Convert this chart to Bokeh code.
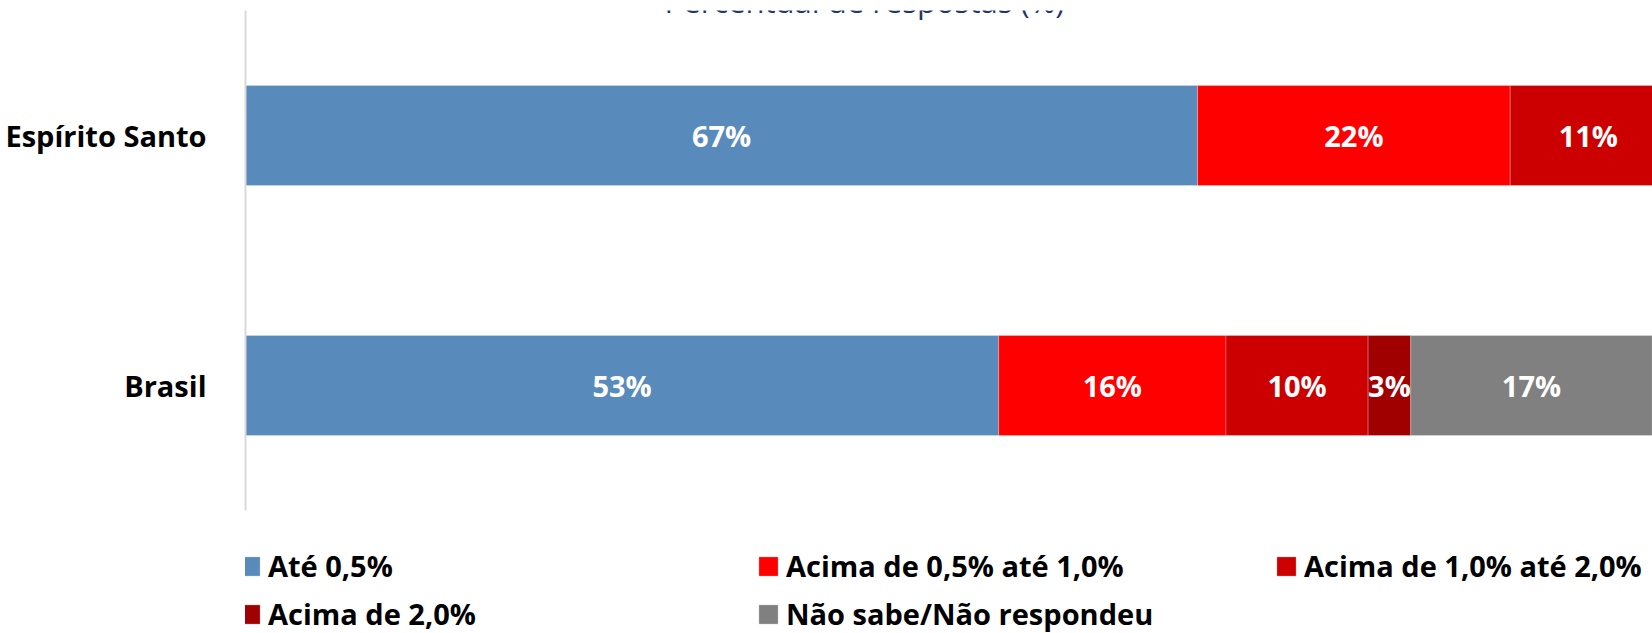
from bokeh.plotting import figure
from bokeh.models import (ColumnDataSource, Range1d, FixedTicker, Legend, LegendItem, Label)
from bokeh.core.properties import value
from bokeh.embed import file_html
from bokeh.resources import INLINE

# ---- data ----
categories = ["Espírito Santo", "Brasil"]
series_names = ["Até 0,5%", "Acima de 0,5% até 1,0%", "Acima de 1,0% até 2,0%",
                "Acima de 2,0%", "Não sabe/Não respondeu"]
ate_0_5 = [67, 53]
acima_0_5_ate_1_0 = [22, 16]
acima_1_0_ate_2_0 = [11, 10]
acima_2_0 = [0, 3]
nao_sabe = [0, 17]
series_values = [ate_0_5, acima_0_5_ate_1_0, acima_1_0_ate_2_0, acima_2_0, nao_sabe]
colors = ["#588BBC", "#FF0000", "#CC0000", "#A00000", "#808080"]
title_text = "Percentual de respostas (%)"

FONT = "Open Sans"
FS = "29px"

n = len(categories)
ypos = [n - i - 0.5 for i in range(n)]

W, H = 1652, 633
BL, BT = 245, 10
px_per_unit_y = 250.0
px_per_pct = 14.21
frame_h = H - BT
frame_w = W - BL

p = figure(width=W, height=H, output_backend="svg", toolbar_location=None,
           x_range=Range1d(0, frame_w / px_per_pct),
           y_range=Range1d(n - frame_h / px_per_unit_y, n),
           min_border_left=BL, min_border_right=0, min_border_top=BT, min_border_bottom=0,
           outline_line_color=None, background_fill_color="white", border_fill_color="white")

p.xgrid.visible = False
p.ygrid.visible = False
p.xaxis.visible = False

yax = p.yaxis[0]
yax.ticker = FixedTicker(ticks=ypos)
yax.bounds = (0, n)
yax.major_label_overrides = {y: c for y, c in zip(ypos, categories)}
yax.major_tick_line_color = None
yax.minor_tick_line_color = None
yax.axis_line_color = "#D9D9D9"
yax.axis_line_width = 2
yax.major_label_text_font = FONT
yax.major_label_text_font_style = "bold"
yax.major_label_text_font_size = FS
yax.major_label_text_color = "black"
yax.major_label_standoff = 33

renderers = []
left = [0.0] * n
for name, vals, col in zip(series_names, series_values, colors):
    right = [l + v for l, v in zip(left, vals)]
    src = ColumnDataSource(dict(y=ypos, left=left, right=right))
    r = p.hbar(y="y", left="left", right="right", height=0.4, source=src,
               fill_color=col, line_color="white", line_alpha=0.25, line_width=1)
    renderers.append(r)
    lab = [(f"{v}%", (l + rr) / 2, y) for v, l, rr, y in zip(vals, left, right, ypos) if v > 0]
    if lab:
        tsrc = ColumnDataSource(dict(t=[a[0] for a in lab], x=[a[1] for a in lab], y=[a[2] for a in lab]))
        p.text(x="x", y="y", text="t", source=tsrc, text_align="center", text_baseline="middle",
               text_color="white", text_font=value(FONT), text_font_style="bold",
               text_font_size=FS)
    left = right

# title (partially cut at top in reference)
p.add_layout(Label(x=43.56, y=n, y_offset=-11, text=title_text, text_align="center",
                   text_baseline="bottom", text_font=FONT, text_font_size="31px",
                   text_color="#1F3864"))

# legend: 3 columns x 2 rows, each item its own legend for exact placement
col_x = [-7, 511, 1029]
row_y = [48, 0]
for i, (name, r) in enumerate(zip(series_names, renderers)):
    cx = col_x[i % 3]
    ry = row_y[i // 3]
    lg = Legend(items=[LegendItem(label=name, renderers=[r])], location=(cx, ry),
                orientation="horizontal", padding=0, margin=0, spacing=0,
                glyph_width=24, glyph_height=24, label_standoff=6,
                label_text_font=FONT, label_text_font_style="bold",
                label_text_font_size=FS, label_text_color="black",
                border_line_color=None, background_fill_alpha=0)
    p.add_layout(lg, "center")

open("out.html", "w").write(file_html(p, INLINE))
